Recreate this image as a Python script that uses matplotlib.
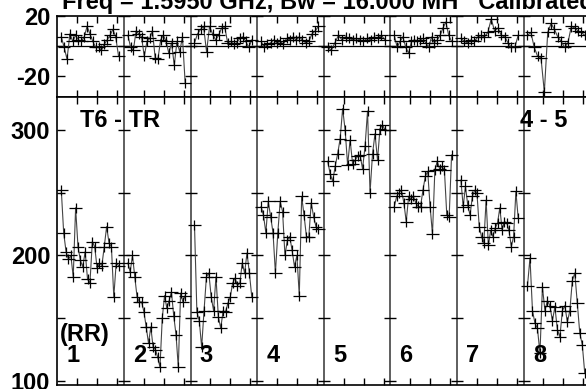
import numpy as np
import matplotlib.pyplot as plt
import matplotlib.transforms as mtransforms

plt.rcParams['font.family'] = ['Liberation Sans', 'DejaVu Sans']
plt.rcParams['font.weight'] = 'bold'

# Amplitude per scan (8 scans)
amp = [
    [252, 218, 203, 197, 200, 183, 238, 207, 196, 191, 203, 181, 178, 211, 207,
     190, 194, 192, 207, 223, 210, 207, 167, 194, 192],
    [194, 187, 200, 183, 167, 163, 163, 155, 143, 130, 143, 127, 125, 119, 111,
     150, 168, 158, 164, 171, 152, 137, 111, 170, 163, 168],
    [224, 155, 148, 127, 156, 183, 186, 167, 156, 183, 151, 142, 156, 155, 162,
     167, 178, 182, 176, 178, 194, 186, 202, 186, 167],
    [239, 232, 218, 243, 231, 218, 186, 218, 243, 235, 200, 212, 215, 204, 191,
     200, 168, 247, 232, 215, 215, 242, 231, 223, 221],
    [275, 265, 259, 271, 281, 293, 317, 300, 272, 292, 273, 276, 279, 280, 269,
     287, 315, 250, 281, 297, 276, 301, 304, 300],
    [239, 247, 250, 252, 242, 227, 247, 245, 247, 242, 239, 239, 252, 263, 267,
     239, 217, 268, 275, 269, 271, 268, 232, 231, 280],
    [260, 239, 255, 240, 232, 247, 252, 250, 223, 215, 210, 244, 208, 220, 215,
     222, 226, 238, 220, 227, 226, 220, 207, 215, 251, 230],
    [176, 198, 156, 146, 142, 122, 175, 156, 164, 160, 148, 159, 141, 135, 156,
     160, 147, 156, 180, 186, 162, 138, 129, 106],
]

# Phase per scan (degrees)
phase = [
    [6, -1, -9, 8, 3, 7, 4, 3, 6, 13, 8, 3, -1, -1, -3, 1, 4, 7, 11, 6, -7],
    [7, -1, -3, 10, 8, 6, -7, 3, 5, 10, -8, -9, 4, 7, 3, -5, 2, -13, 3, -4, 6, -25],
    [2, 8, 11, 13, -4, 13, 8, 4, 7, 12, 13, 2, 3, 1, 2, 5, 6, 3, -1, 4],
    [3, -1, 1, 2, 4, 2, 3, 1, 5, 4, 6, 4, 6, 4, 2, 3, 8, 10, 13],
    [-1, -3, 2, 7, 4, 6, 5, 4, 5, 4, 3, 5, 4, 6, 5, 7, 4],
    [7, -1, 3, 6, -1, -5, 3, 4, 3, 4, 5, 2, -1, 6, 2, 4, 7, 12, 16, 7, 3],
    [5, 3, 2, 4, 3, 6, 7, 6, 9, 18, 10, 12, 7, 6, 2, -1, -1, 7],
    [7, 9, -1, -7, -8, -31, 9, 15, 11, 6, 3, -1, 2, 13, 12, 10, 9, 7],
]

scan_labels = ['1', '2', '3', '4', '5', '6', '7', '8']
scan_start = 0.6   # start of data inside each scan window (scan width = 10)
scan_end = 9.2

fig = plt.figure(figsize=(5.86, 3.89), dpi=100)
W = 586.0
H = 389.0
left = 57.3 / W
width = (590.1 - 57.3) / W
ax_ph = fig.add_axes([left, 1 - 97.3 / H, width, (97.3 - 15.7) / H])
ax_amp = fig.add_axes([left, 1 - 385 / H, width, (385 - 97.3) / H])

nscan = len(amp)
minor_x = [i * 10 + k for i in range(nscan) for k in (3, 6, 9)]
dividers = [i * 10 for i in range(1, nscan)]

for ax, data, yl, yt, ylab, xe, ye in [
        (ax_amp, amp, (96.8, 326), [100, 150, 200, 250, 300], ['100', '', '200', '', '300'], 0.95, 4.0),
        (ax_ph, phase, (-34.5, 20.2), [-20, 0, 20], ['-20', '', '20'], 0.95, 3.4)]:
    for i, vals in enumerate(data):
        x = np.linspace(i * 10 + scan_start, i * 10 + scan_end, len(vals))
        ax.plot(x, vals, color='#444444', lw=0.8, zorder=2)
        ax.errorbar(x, vals, xerr=xe, yerr=ye, fmt='none', ecolor='black',
                    elinewidth=0.9, capsize=0, zorder=3)
    for d in dividers:
        ax.axvline(d, color='#333333', lw=1.1, zorder=1)
        ax.plot([d] * len(yt), yt, ls='none', marker='_', ms=9, mew=1,
                color='black', zorder=1)
    ax.set_xlim(0, nscan * 10)
    ax.set_ylim(*yl)
    ax.set_xticks(minor_x)
    ax.set_xticklabels([])
    ax.tick_params(axis='x', direction='in', top=True, bottom=True, length=5, width=1)
    ax.set_yticks(yt)
    ax.set_yticklabels(ylab)
    ax.tick_params(axis='y', direction='in', left=True, right=False, length=6,
                   width=1, labelsize=17, pad=5)
    for s in ax.spines.values():
        s.set_linewidth(1.2)

ax_ph.axhline(0, color='black', lw=0.9, zorder=1)

trans = mtransforms.blended_transform_factory(ax_amp.transData, ax_amp.transAxes)
for i, lab in enumerate(scan_labels):
    ax_amp.text(i * 10 + 1.4, 0.101, lab, transform=trans, fontsize=17,
                fontweight='bold', ha='left', va='center')
ax_amp.text(0.005, 0.174, '(RR)', transform=ax_amp.transAxes, fontsize=17,
            fontweight='bold', ha='left', va='center')
ax_amp.text(0.0426, 0.918, 'T6 - TR', transform=ax_amp.transAxes, fontsize=17,
            fontweight='bold', ha='left', va='center')
ax_amp.text(0.868, 0.918, '4 - 5', transform=ax_amp.transAxes, fontsize=17,
            fontweight='bold', ha='left', va='center')

fig.text(62 / W, 1 - 9.5 / H, 'Freq = 1.5950 GHz, Bw = 16.000 MH   Calibrated with CL # 2',
         fontsize=17, fontweight='bold', ha='left', va='baseline')

fig.savefig('out.png', dpi=100)
